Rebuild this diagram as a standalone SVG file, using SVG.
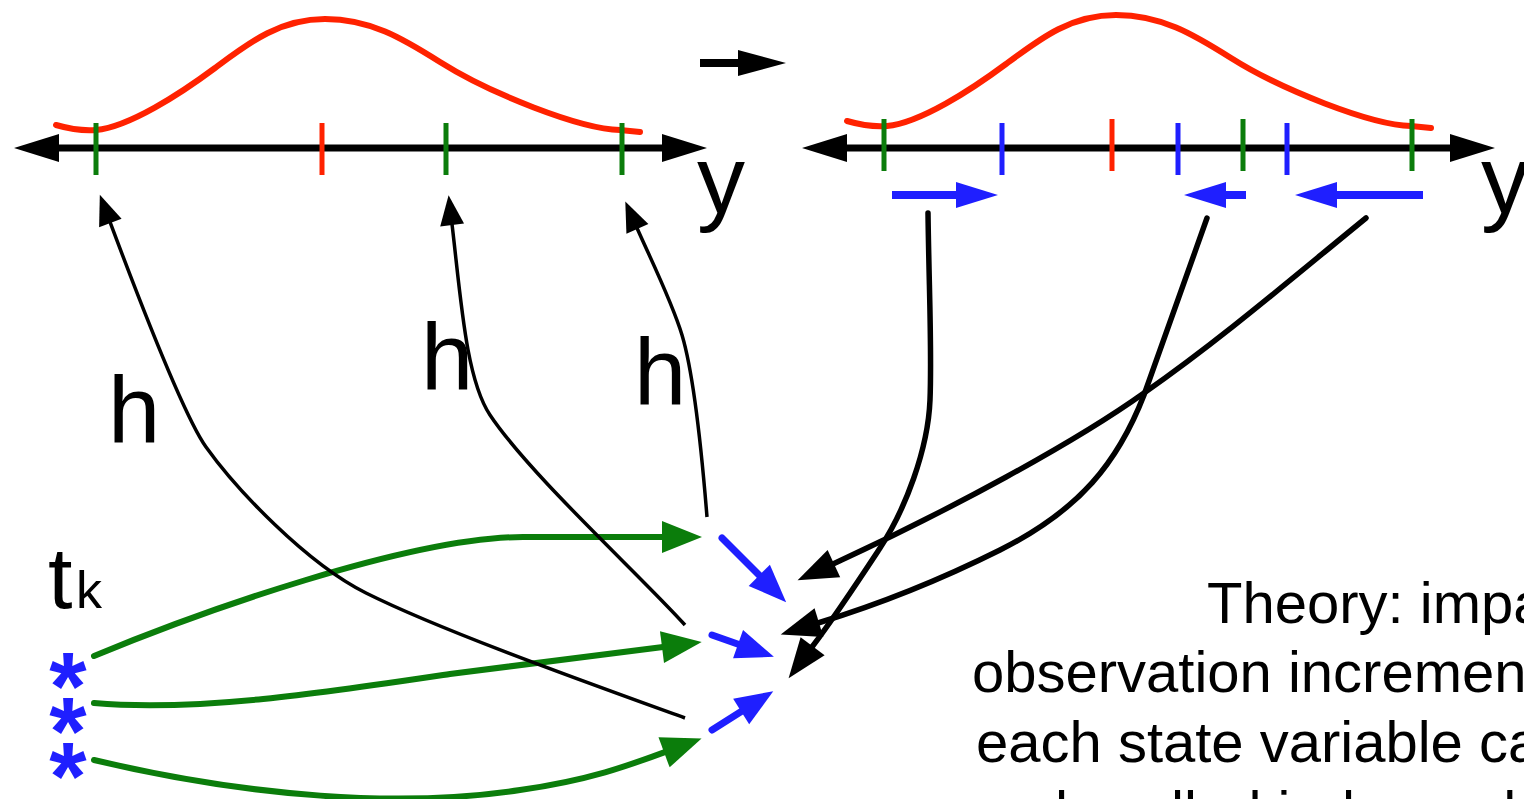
<svg xmlns="http://www.w3.org/2000/svg" width="1524" height="799" viewBox="0 0 1524 799">
<style>
.axis{stroke:#000;stroke-width:7;fill:none}
.tick{stroke-width:5;fill:none}
.g{stroke:#0b7d0b}
.r{stroke:#ff2200}
.b{stroke:#1f1fff}
.pdf{stroke:#ff2200;stroke-width:6;fill:none;stroke-linecap:round}
.garr{stroke:#0b7d0b;stroke-width:6;fill:none;stroke-linecap:round}
.barr{stroke:#1f1fff;stroke-width:8;fill:none}
.sbarr{stroke:#1f1fff;stroke-width:7;fill:none;stroke-linecap:round}
.harr{stroke:#000;stroke-width:3.5;fill:none}
.karr{stroke:#000;stroke-width:5.5;fill:none;stroke-linecap:round}
.lbl{font-family:"Liberation Sans",Arial,sans-serif;fill:#000}
.ast{font-family:"Liberation Sans",Arial,sans-serif;font-weight:bold;fill:#1f1fff;font-size:96px;text-anchor:middle}
.txt{font-family:"Liberation Sans",Arial,sans-serif;font-size:58px;fill:#000}
</style>
<defs>
<marker id="mAxis" markerUnits="userSpaceOnUse" markerWidth="46" markerHeight="28" refX="1" refY="14" orient="auto-start-reverse" overflow="visible"><path d="M0,0 L45,14 L0,28 z" fill="#000"/></marker>
<marker id="mTop" markerUnits="userSpaceOnUse" markerWidth="49" markerHeight="26" refX="1" refY="13" orient="auto" overflow="visible"><path d="M0,0 L48,13 L0,26 z" fill="#000"/></marker>
<marker id="mBlue" markerUnits="userSpaceOnUse" markerWidth="43" markerHeight="26" refX="1" refY="13" orient="auto" overflow="visible"><path d="M0,0 L42,13 L0,26 z" fill="#1f1fff"/></marker>
<marker id="mSBlue" markerUnits="userSpaceOnUse" markerWidth="39" markerHeight="30" refX="1" refY="15" orient="auto" overflow="visible"><path d="M0,0 L38,15 L0,30 z" fill="#1f1fff"/></marker>
<marker id="mGreen" markerUnits="userSpaceOnUse" markerWidth="41" markerHeight="32" refX="1" refY="16" orient="auto" overflow="visible"><path d="M0,0 L40,16 L0,32 z" fill="#0b7d0b"/></marker>
<marker id="mH" markerUnits="userSpaceOnUse" markerWidth="31" markerHeight="24" refX="1" refY="12" orient="auto" overflow="visible"><path d="M0,0 L30,12 L0,24 z" fill="#000"/></marker>
<marker id="mK" markerUnits="userSpaceOnUse" markerWidth="41" markerHeight="30" refX="1" refY="15" orient="auto" overflow="visible"><path d="M0,0 L40,15 L0,30 z" fill="#000"/></marker>
<path id="pdfShape" d="M56,125 C70,129 85,131 96,130 C129,127 180,94 215,68 C250,42 280,19 325,19 C370,19 402,38 440,62 C490,93.5 580,129 620,130 L640,132"/>
</defs>

<g id="prior-axis">
<line class="axis" x1="58" y1="148" x2="663" y2="148" marker-start="url(#mAxis)" marker-end="url(#mAxis)"/>
<use href="#pdfShape" class="pdf"/>
<line class="tick g" x1="96" y1="123" x2="96" y2="175"/>
<line class="tick r" x1="322" y1="123" x2="322" y2="175"/>
<line class="tick g" x1="446" y1="123" x2="446" y2="175"/>
<line class="tick g" x1="622" y1="123" x2="622" y2="175"/>
<text class="lbl" x="697" y="213" font-size="96">y</text>
</g>

<g id="step-arrow">
<line x1="700" y1="63" x2="739" y2="63" stroke="#000" stroke-width="8" marker-end="url(#mTop)"/>
</g>

<g id="posterior-axis">
<line class="axis" x1="846" y1="148" x2="1451" y2="148" marker-start="url(#mAxis)" marker-end="url(#mAxis)"/>
<use href="#pdfShape" class="pdf" transform="translate(791,-4)"/>
<line class="tick g" x1="884" y1="119" x2="884" y2="171"/>
<line class="tick b" x1="1002" y1="123" x2="1002" y2="175"/>
<line class="tick r" x1="1112" y1="119" x2="1112" y2="171"/>
<line class="tick b" x1="1178" y1="123" x2="1178" y2="175"/>
<line class="tick g" x1="1243" y1="119" x2="1243" y2="171"/>
<line class="tick b" x1="1287" y1="123" x2="1287" y2="175"/>
<line class="tick g" x1="1412" y1="119" x2="1412" y2="171"/>
<text class="lbl" x="1481" y="213" font-size="96">y</text>
</g>

<g id="increments">
<line class="barr" x1="892" y1="195" x2="957" y2="195" marker-end="url(#mBlue)"/>
<line class="barr" x1="1246" y1="195" x2="1225" y2="195" marker-end="url(#mBlue)"/>
<line class="barr" x1="1423" y1="195" x2="1336" y2="195" marker-end="url(#mBlue)"/>
</g>

<g id="state-tk">
<text class="lbl" x="48" y="608" font-size="88">t</text>
<text class="lbl" x="76" y="608" font-size="52">k</text>
<text class="ast"><tspan x="68" y="719">*</tspan><tspan x="68" y="764">*</tspan><tspan x="68" y="809">*</tspan></text>
</g>

<g id="h-labels">
<text class="lbl" x="108" y="443" font-size="94">h</text>
<text class="lbl" x="421" y="390" font-size="94">h</text>
<text class="lbl" x="634" y="405" font-size="94">h</text>
</g>

<g id="connectors">
<path class="garr" d="M94,656 C200,612 410,537 523,537 L663,537" marker-end="url(#mGreen)"/>
<path class="garr" d="M94,703 C200,712 330,692 450,674 L663,647" marker-end="url(#mGreen)"/>
<path class="garr" d="M94,760 C250,797 400,808 520,790 C590,780 630,765 665,752" marker-end="url(#mGreen)"/>
<path class="harr" d="M685,718 C580,680 440,630 366,593 C306,563 236,489 206,447 C181,412 125,262 110,222" marker-end="url(#mH)"/>
<path class="harr" d="M685,625 C640,575 530,475 490,415 C466,379 461,300 452,224" marker-end="url(#mH)"/>
<path class="harr" d="M707,517 C702,455 694,375 682,335 C672,302 652,262 637,228" marker-end="url(#mH)"/>
<line class="sbarr" x1="722" y1="538" x2="760" y2="576" marker-end="url(#mSBlue)"/>
<line class="sbarr" x1="712" y1="635" x2="739" y2="644.5" marker-end="url(#mSBlue)"/>
<line class="sbarr" x1="712" y1="730" x2="742" y2="711" marker-end="url(#mSBlue)"/>
<path class="karr" d="M928,213 C929,290 932,350 930,400 C928,450 905,510 880,548 C855,586 836,615 812,647" marker-end="url(#mK)"/>
<path class="karr" d="M1207,218 C1185,280 1162,345 1144,395 C1118,462 1080,510 1000,550 C940,580 880,604 818,623" marker-end="url(#mK)"/>
<path class="karr" d="M1366,218 C1290,280 1220,340 1144,393 C1074,443 950,510 833,564" marker-end="url(#mK)"/>
</g>

<g id="theory-text">
<text class="txt" x="1207" y="623">Theory: impa</text>
<text class="txt" x="972" y="692">observation incremen</text>
<text class="txt" x="976" y="762">each state variable ca</text>
<text class="txt" x="1055" y="832">handled independently!</text>
</g>
</svg>
